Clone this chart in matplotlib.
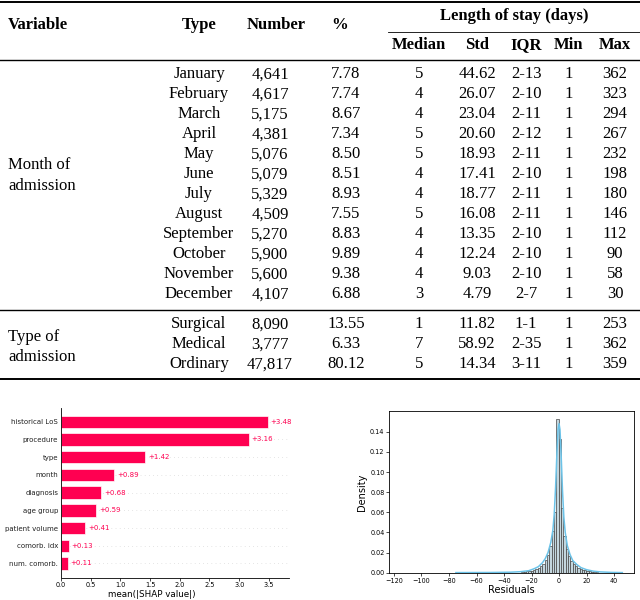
import matplotlib.pyplot as plt
import numpy as np

# ---- table data ----
months = ["January", "February", "March", "April", "May", "June", "July",
          "August", "September", "October", "November", "December"]
month_number = [4641, 4617, 5175, 4381, 5076, 5079, 5329, 4509, 5270, 5900, 5600, 4107]
month_pct = [7.78, 7.74, 8.67, 7.34, 8.50, 8.51, 8.93, 7.55, 8.83, 9.89, 9.38, 6.88]
month_median = [5, 4, 4, 5, 5, 4, 4, 5, 4, 4, 4, 3]
month_std = [44.62, 26.07, 23.04, 20.60, 18.93, 17.41, 18.77, 16.08, 13.35, 12.24, 9.03, 4.79]
month_iqr = ["2-13", "2-10", "2-11", "2-12", "2-11", "2-10", "2-11", "2-11", "2-10", "2-10", "2-10", "2-7"]
month_min = [1] * 12
month_max = [362, 323, 294, 267, 232, 198, 180, 146, 112, 90, 58, 30]

adm_types = ["Surgical", "Medical", "Ordinary"]
adm_number = [8090, 3777, 47817]
adm_pct = [13.55, 6.33, 80.12]
adm_median = [1, 7, 5]
adm_std = [11.82, 58.92, 14.34]
adm_iqr = ["1-1", "2-35", "3-11"]
adm_min = [1, 1, 1]
adm_max = [253, 362, 359]

# ---- SHAP data ----
features = ["historical LoS", "procedure", "type", "month", "diagnosis",
            "age group", "patient volume", "comorb. idx", "num. comorb."]
shap_vals = [3.48, 3.16, 1.42, 0.89, 0.68, 0.59, 0.41, 0.13, 0.11]

# ---- residual histogram ----
res_centers = [-26.5, -24.8, -23.1, -21.4, -19.7, -18.1, -16.4, -14.7, -13.0, -11.3,
               -9.6, -7.9, -6.2, -4.5, -2.8, -1.2, 0.5, 2.2, 3.9, 5.6, 7.3, 9.0,
               10.7, 12.4, 14.1, 15.8, 17.5, 19.1, 20.8, 22.5, 24.2, 25.9, 27.6]
res_density = [0.0008, 0.001, 0.0012, 0.0015, 0.002, 0.003, 0.004, 0.005, 0.007, 0.009,
               0.013, 0.018, 0.027, 0.041, 0.060, 0.153, 0.133, 0.064, 0.036, 0.024,
               0.017, 0.012, 0.009, 0.007, 0.005, 0.004, 0.003, 0.0025, 0.002, 0.0015,
               0.001, 0.0008, 0.0006]
kde_x = [-75, -50, -35, -28, -22, -18, -15, -12, -10, -8, -6, -4.5, -3.5, -2.5, -1.5,
         -0.7, 0.0, 0.7, 1.5, 2.5, 3.5, 4.5, 6, 8, 10, 13, 16, 20, 25, 30, 38, 46]
kde_y = [0.0001, 0.0002, 0.0005, 0.001, 0.002, 0.004, 0.006, 0.010, 0.014, 0.020,
         0.030, 0.042, 0.058, 0.085, 0.120, 0.142, 0.148, 0.142, 0.118, 0.082, 0.055,
         0.040, 0.027, 0.018, 0.012, 0.008, 0.005, 0.003, 0.0015, 0.0008, 0.0003, 0.0001]

SHAP_RED = "#ff0051"

fig = plt.figure(figsize=(6.4, 6.0), dpi=100)

# ---------------- table (pixel coordinates) ----------------
tab = fig.add_axes([0, 0, 1, 1])
tab.set_xlim(0, 640)
tab.set_ylim(600, 0)
tab.axis("off")

serif = "Liberation Serif"
fs = 12
col_x = {"type": 199, "number": 270, "pct": 346, "median": 419,
         "std": 477, "iqr": 526, "min": 569, "max": 615}

def put(x, y, s, ha="center", bold=False):
    tab.text(x, y, s, ha=ha, va="center", fontsize=fs, family=serif,
             fontweight="bold" if bold else "normal")

# rules
tab.plot([0, 640], [1.5, 1.5], color="black", lw=1.4)
tab.plot([0, 640], [60, 60], color="black", lw=1.0)
tab.plot([388, 640], [32, 32], color="black", lw=0.6)
tab.plot([0, 640], [310, 310], color="black", lw=1.0)
tab.plot([0, 640], [379, 379], color="black", lw=1.4)

# headers
put(8, 25, "Variable", ha="left", bold=True)
put(199, 25, "Type", bold=True)
put(276, 25, "Number", bold=True)
put(340, 25, "%", bold=True)
put(514, 16, "Length of stay (days)", bold=True)
for key, lab in [("median", "Median"), ("std", "Std"), ("iqr", "IQR"),
                 ("min", "Min"), ("max", "Max")]:
    put(col_x[key], 45, lab, bold=True)

def put_rows(y0, names, num, pct, med, std, iqr, mn, mx):
    for i in range(len(names)):
        y = y0 + 20 * i
        put(col_x["type"], y, names[i])
        put(col_x["number"], y, f"{num[i]:,}")
        put(col_x["pct"], y, f"{pct[i]:.2f}")
        put(col_x["median"], y, str(med[i]))
        put(col_x["std"], y, f"{std[i]:.2f}")
        put(col_x["iqr"], y, iqr[i])
        put(col_x["min"], y, str(mn[i]))
        put(col_x["max"], y, str(mx[i]))

put_rows(74.5, months, month_number, month_pct, month_median, month_std,
         month_iqr, month_min, month_max)
put_rows(324.3, adm_types, adm_number, adm_pct, adm_median, adm_std,
         adm_iqr, adm_min, adm_max)

put(8, 165, "Month of", ha="left")
put(8, 186, "admission", ha="left")
put(8, 336.7, "Type of", ha="left")
put(8, 356.7, "admission", ha="left")

# ---------------- SHAP bar plot ----------------
ax1 = fig.add_axes([61 / 640, 1 - 577.6 / 600, 228 / 640, 169.3 / 600])
y_pos = np.arange(len(features))
ax1.barh(y_pos, shap_vals, 0.7, color=SHAP_RED, edgecolor=(1, 1, 1, 0.8), lw=0.6)
for yy in y_pos:
    ax1.axhline(yy, color="#cccccc", lw=0.5, dashes=(1, 5), zorder=-1)
for yy, v in zip(y_pos, shap_vals):
    ax1.text(v + 0.05, yy, f"+{v:.2f}", ha="left", va="center",
             color=SHAP_RED, fontsize=5)
ax1.axvline(0, 0, 1, color="black", lw=0.6, zorder=1)
ax1.set_yticks(y_pos)
ax1.set_yticklabels(features, fontsize=5, color="#222222")
ax1.set_ylim(len(features) - 0.2, -0.76)
ax1.set_xlim(0, 3.84)
ax1.set_xticks(np.arange(0, 3.6, 0.5))
ax1.tick_params(axis="x", labelsize=4.7, length=2, width=0.5, pad=1.5)
ax1.tick_params(axis="y", length=0, pad=2)
for side in ["top", "right", "left"]:
    ax1.spines[side].set_visible(False)
ax1.spines["bottom"].set_linewidth(0.6)
ax1.set_xlabel("mean(|SHAP value|)", fontsize=6.3, labelpad=1)
ax1.xaxis.label.set_x(0.40)

# ---------------- residual histogram ----------------
ax2 = fig.add_axes([389.3 / 640, 1 - 572.7 / 600, 244.7 / 640, 161.7 / 600])
ax2.bar(res_centers, res_density, width=1.69, color="#c3d6de",
        edgecolor="#454545", lw=0.5)
ax2.plot(kde_x, kde_y, color="#6cc3e8", lw=1.1)
ax2.set_xlim(-123.4, 54.5)
ax2.set_ylim(0, 0.1606)
ax2.set_xticks(np.arange(-120, 41, 20))
ax2.set_yticks(np.arange(0, 0.141, 0.02))
ax2.set_yticklabels([f"{t:.2f}" for t in np.arange(0, 0.141, 0.02)])
ax2.tick_params(labelsize=4.7, length=2, width=0.5, pad=1.5)
for s in ax2.spines.values():
    s.set_linewidth(0.6)
ax2.set_xlabel("Residuals", fontsize=7, labelpad=1)
ax2.set_ylabel("Density", fontsize=7, labelpad=2)

fig.savefig("out.png", dpi=100)
